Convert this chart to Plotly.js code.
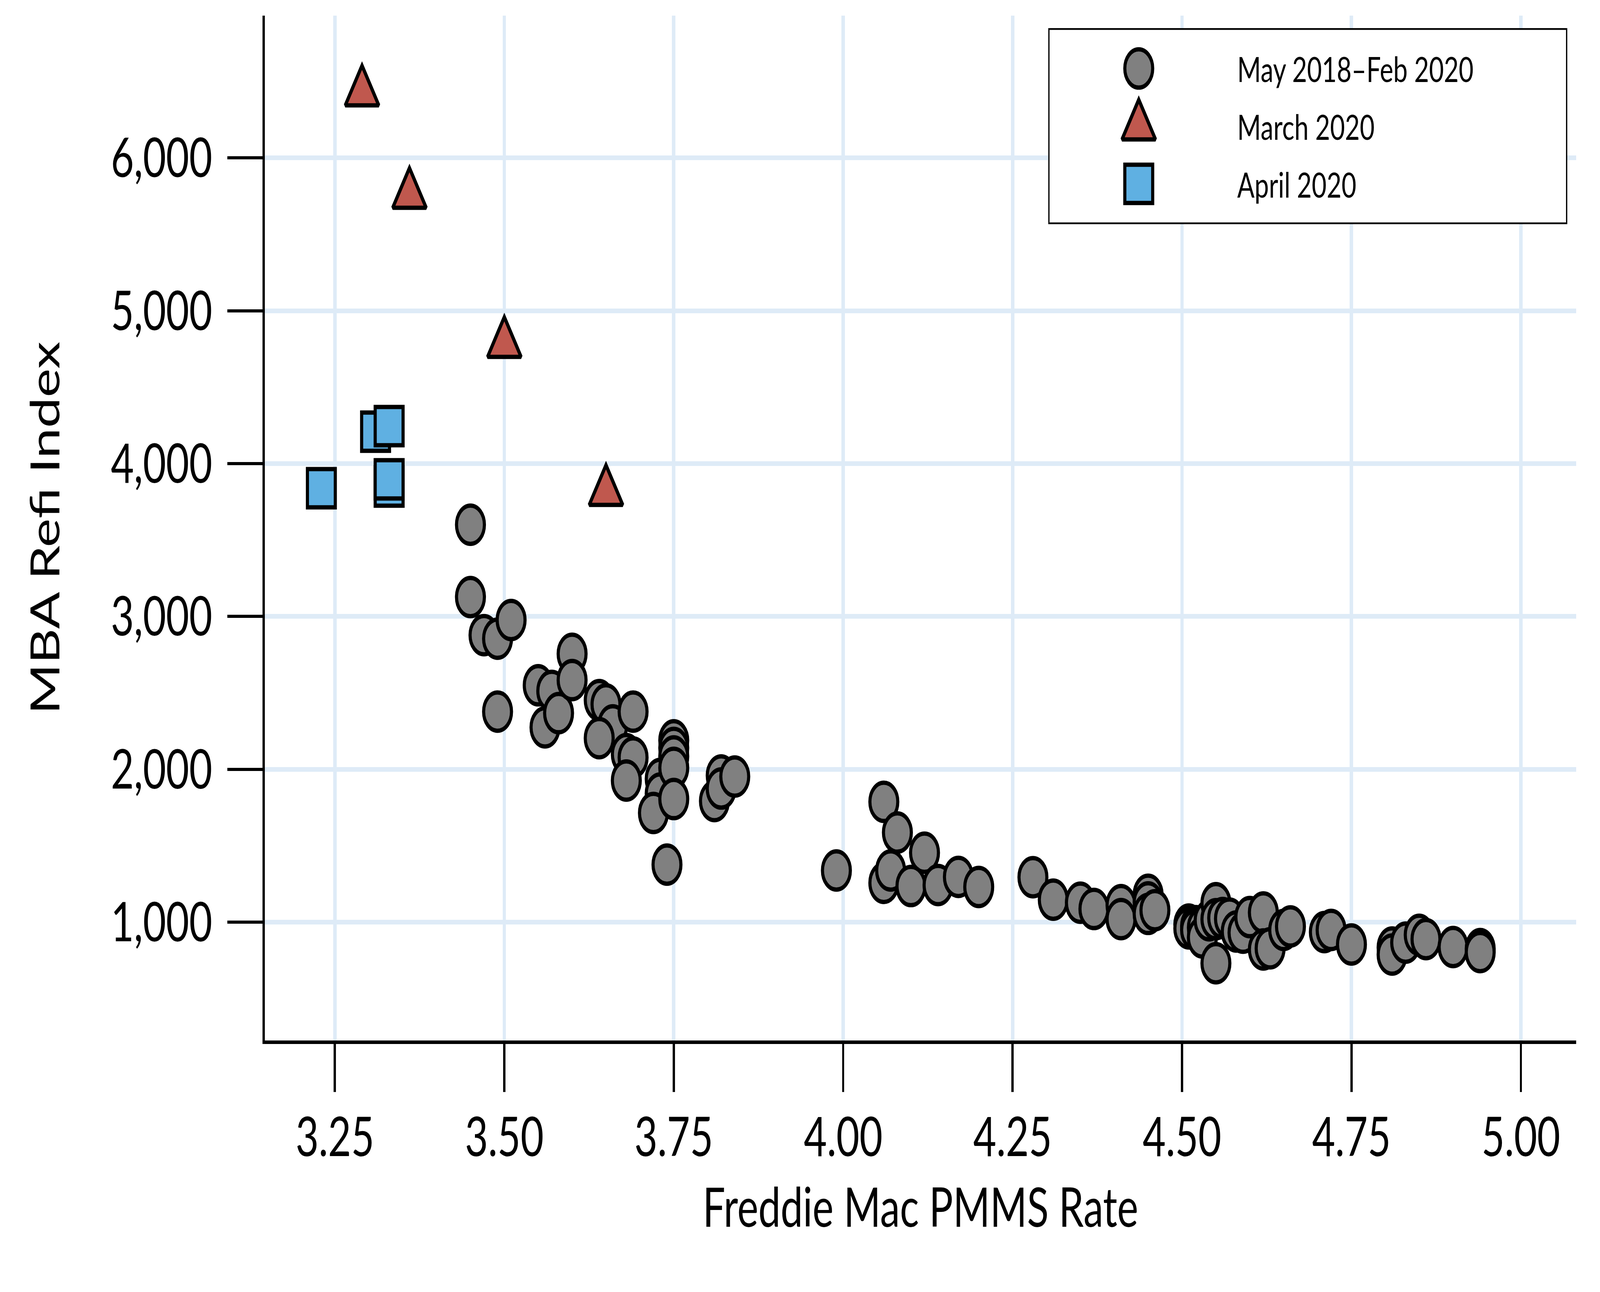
<!DOCTYPE html>
<html>
<head>
<meta charset="utf-8">
<script src="https://cdn.plot.ly/plotly-3.0.1.min.js"></script>
<style>
html,body{margin:0;padding:0;background:#ffffff;overflow:hidden;}
#wrap{position:absolute;left:0;top:0;transform-origin:0 0;}
#chart{width:5623px;height:3308px;}
</style>
</head>
<body>
<div id="wrap"><div id="chart"></div></div>
<script>
// ---------------- DATA ----------------
const seriesNames = ['May 2018\u2013Feb 2020', 'March 2020', 'April 2020'];

// May 2018 - Feb 2020 (Freddie Mac PMMS rate, MBA Refi Index)
const baseRate = [
  3.45, 3.45, 3.47, 3.49, 3.51, 3.49, 3.55, 3.57, 3.56, 3.58, 3.60, 3.60,
  3.64, 3.65, 3.66, 3.64, 3.69, 3.68, 3.69, 3.68, 3.73, 3.73, 3.72, 3.75,
  3.75, 3.75, 3.75, 3.75, 3.74, 3.81, 3.82, 3.82, 3.84,
  3.99, 4.06, 4.08, 4.12, 4.06, 4.07, 4.10, 4.14, 4.17, 4.20, 4.28, 4.31,
  4.35, 4.37, 4.41, 4.41, 4.45, 4.45, 4.45, 4.46,
  4.51, 4.51, 4.52, 4.52, 4.53, 4.53, 4.54, 4.55, 4.55, 4.56, 4.57, 4.55,
  4.58, 4.59, 4.60, 4.62, 4.62, 4.63, 4.65, 4.66,
  4.71, 4.72, 4.75, 4.81, 4.81, 4.83, 4.85, 4.86, 4.90, 4.94, 4.94
];
const baseRefi = [
  3600, 3127, 2878, 2855, 2977, 2378, 2550, 2513, 2275, 2368, 2756, 2584,
  2453, 2425, 2288, 2204, 2378, 2100, 2078, 1927, 1938, 1842, 1715, 2190,
  2140, 2085, 2010, 1806, 1377, 1793, 1960, 1875, 1953,
  1339, 1788, 1587, 1455, 1258, 1339, 1237, 1244, 1297, 1231, 1295, 1148,
  1128, 1087, 1112, 1021, 1180, 1130, 1055, 1079,
  985, 960, 975, 950, 965, 901, 1013, 1125, 1020, 1028, 1024, 732,
  940, 932, 1034, 1064, 822, 830, 950, 973,
  936, 950, 855, 835, 789, 867, 918, 890, 838, 825, 805
];

// March 2020
const marchRate = [3.29, 3.36, 3.50, 3.65];
const marchRefi = [6430, 5760, 4785, 3817];

// April 2020
const aprilRate = [3.33, 3.33, 3.31, 3.33, 3.23];
const aprilRefi = [3850, 3897, 4209, 4245, 3839];

// Axis ticks
const xTickVals = [3.25, 3.50, 3.75, 4.00, 4.25, 4.50, 4.75, 5.00];
const xTickText = ['3.25', '3.50', '3.75', '4.00', '4.25', '4.50', '4.75', '5.00'];
const yTickVals = [1000, 2000, 3000, 4000, 5000, 6000];
const yTickText = ['1,000', '2,000', '3,000', '4,000', '5,000', '6,000'];

const xTitle = 'Freddie Mac PMMS Rate';
const yTitle = 'MBA Refi Index';

// ---------------- STYLE ----------------
const W = 5623, H = 3308;
const M = {l: 931, r: 84, t: 40, b: 644};
const FONT = 'Lato, "Open Sans", "DejaVu Sans", sans-serif';
const GRID = '#DEEBF7';

const markerStyles = [
  {symbol: 'circle', size: 98, color: '#808080', line: {color: '#000000', width: 11}},
  {symbol: 'triangle-up', size: 102, color: '#C0584E', line: {color: '#000000', width: 11}},
  {symbol: 'square', size: 98, color: '#5FB0E2', line: {color: '#000000', width: 11}}
];

// legend box / glyph / text positions in page pixels
const LB = {x0: 3684, x1: 5508, y0: 72, y1: 574, glyphX: 4002, textX: 4346};
const plotW = W - M.l - M.r, plotH = H - M.t - M.b;
const px2fx = X => (X - M.l) / plotW;
const px2fy = Y => (H - M.b - Y) / plotH;
const legendGlyphX = (LB.glyphX - LB.x0) / (LB.x1 - LB.x0);
const legendTextX = (LB.textX - LB.x0) / (LB.x1 - LB.x0);

// ---------------- TRACES ----------------
const seriesX = [baseRate, marchRate, aprilRate];
const seriesY = [baseRefi, marchRefi, aprilRefi];

const traces = seriesX.map((xs, i) => ({
  type: 'scatter', mode: 'markers',
  x: xs, y: seriesY[i], name: seriesNames[i],
  marker: markerStyles[i],
  showlegend: false, hoverinfo: 'x+y'
}));

// custom legend glyphs (one row per series)
seriesNames.forEach((n, i) => {
  traces.push({
    type: 'scatter', mode: 'markers',
    x: [legendGlyphX], y: [i],
    xaxis: 'x2', yaxis: 'y2',
    marker: markerStyles[i],
    showlegend: false, hoverinfo: 'skip', cliponaxis: false
  });
});

const legendAnn = seriesNames.map((n, i) => ({
  xref: 'x2', yref: 'y2', x: legendTextX, y: i,
  text: n, showarrow: false, xanchor: 'left', yanchor: 'middle',
  font: {family: FONT, size: 90, color: '#000000'}
}));

const layout = {
  width: W, height: H,
  margin: M,
  paper_bgcolor: '#ffffff', plot_bgcolor: '#ffffff',
  showlegend: false,
  font: {family: FONT, color: '#000000'},
  xaxis: {
    range: [3.1467, 5.0815],
    tickmode: 'array', tickvals: xTickVals, ticktext: xTickText,
    showgrid: true, gridcolor: GRID, gridwidth: 12,
    zeroline: false,
    showline: true, linecolor: '#000000', linewidth: 9,
    ticks: 'outside', ticklen: 123, tickwidth: 8, tickcolor: '#000000',
    tickfont: {family: FONT, size: 140, color: '#000000'},
    ticklabelstandoff: -4,
    automargin: false,
    title: {text: xTitle, font: {family: FONT, size: 140, color: '#000000'}, standoff: 58}
  },
  yaxis: {
    range: [227, 6930],
    tickmode: 'array', tickvals: yTickVals, ticktext: yTickText,
    showgrid: true, gridcolor: GRID, gridwidth: 12,
    zeroline: false,
    showline: true, linecolor: '#000000', linewidth: 9,
    ticks: 'outside', ticklen: 123, tickwidth: 8, tickcolor: '#000000',
    tickfont: {family: FONT, size: 140, color: '#000000'},
    ticklabelstandoff: 25,
    automargin: false,
    title: {text: yTitle, font: {family: FONT, size: 140, color: '#000000'}, standoff: 136}
  },
  xaxis2: {
    domain: [px2fx(LB.x0), px2fx(LB.x1)], range: [0, 1],
    anchor: 'y2', visible: false, fixedrange: true
  },
  yaxis2: {
    domain: [px2fy(LB.y1), px2fy(LB.y0)], range: [2.7, -0.7],
    anchor: 'x2', visible: false, fixedrange: true
  },
  shapes: [{
    type: 'rect', xref: 'x2', yref: 'y2', layer: 'below',
    x0: 0, x1: 1, y0: 2.7, y1: -0.7,
    fillcolor: '#ffffff', line: {color: '#000000', width: 9}
  }],
  annotations: legendAnn
};

// The chart is designed for a 5623x3308 window; map it onto the real window.
function fitToWindow() {
  const vw = window.innerWidth || document.documentElement.clientWidth || W;
  const vh = window.innerHeight || document.documentElement.clientHeight || H;
  const sx = vw / W, sy = vh / H;
  document.getElementById('wrap').style.transform = 'scale(' + sx + ',' + sy + ')';
  document.body.style.width = vw + 'px';
  document.body.style.height = vh + 'px';
}

Plotly.newPlot('chart', traces, layout, {displayModeBar: false, staticPlot: true}).then(() => {
  // make triangle markers equilateral (same centre as Plotly's triangle)
  const tri = /^M-[\d.]+,[\d.]+H[\d.]+L0,-[\d.]+Z$/;
  document.querySelectorAll('path.point').forEach(p => {
    const d = p.getAttribute('d') || '';
    if (tri.test(d)) p.setAttribute('d', 'M-58.9,34H58.9L0,-68Z');
  });
  fitToWindow();
});
</script>
</body>
</html>
